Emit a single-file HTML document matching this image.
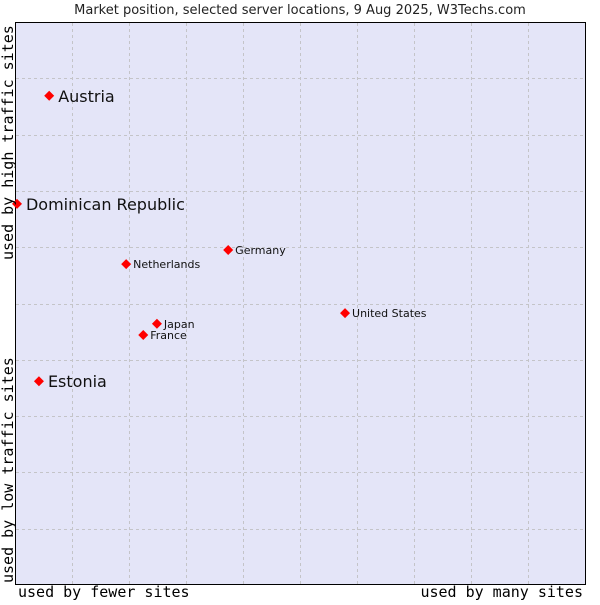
<!DOCTYPE html>
<html><head><meta charset="utf-8"><style>
body{margin:0;background:#fff;width:600px;height:600px;overflow:hidden}
svg text{font-family:"DejaVu Sans","Liberation Sans",sans-serif}
.mono{font-family:"DejaVu Sans Mono","Liberation Mono",monospace}
</style></head><body>
<svg id="c" width="600" height="600">
<text x="300" y="14" text-anchor="middle" font-size="13" fill="#222">Market position, selected server locations, 9 Aug 2025, W3Techs.com</text>
<rect x="15.5" y="22.5" width="570" height="562" fill="#e4e5f8" stroke="#000"/>
<g id="grid"></g>
<g id="pts"></g>
<text class="mono" x="18" y="597" font-size="15" fill="#000">used by fewer sites</text>
<text class="mono" x="583" y="597" font-size="15" text-anchor="end" fill="#000">used by many sites</text>
<text class="mono" transform="translate(13,583) rotate(-90)" font-size="15" fill="#000">used by low traffic sites</text>
<text class="mono" transform="translate(13,260) rotate(-90)" font-size="15" fill="#000">used by high traffic sites</text>
</svg>
<script>
const names=["Austria","Dominican Republic","Netherlands","Germany","United States","Japan","France","Estonia"];
const xVals=[6.0,0.35,19.5,37.4,57.9,24.9,22.5,4.2];
const yVals=[86.9,67.7,57.0,59.5,48.3,46.4,44.4,36.2];
const big=[true,true,false,false,false,false,false,true];
const sx=v=>15+v*5.7, sy=v=>585-v*5.63;
const ns="http://www.w3.org/2000/svg";
const g=document.getElementById('grid'), p=document.getElementById('pts');
for(let i=1;i<10;i++){
 let l=document.createElementNS(ns,'line');
 
 
 let x=Math.round(sx(i*10))+0.5;
 l.setAttribute('x1',x);l.setAttribute('x2',x);l.setAttribute('y1',23);l.setAttribute('y2',584);
 l.setAttribute('stroke','#c4c4c8');l.setAttribute('stroke-dasharray','3,3');g.appendChild(l);
 let h=document.createElementNS(ns,'line');
 
 
 let y=Math.round(sy(i*10))+0.5;
 h.setAttribute('y1',y);h.setAttribute('y2',y);h.setAttribute('x1',16);h.setAttribute('x2',585);
 h.setAttribute('stroke','#c4c4c8');h.setAttribute('stroke-dasharray','3,3');g.appendChild(h);
}
names.forEach((n,i)=>{
 const x=sx(xVals[i]),y=sy(yVals[i]);
 let d=document.createElementNS(ns,'polygon');
 
 
 d.setAttribute('points',`${x},${y-5} ${x+5},${y} ${x},${y+5} ${x-5},${y}`);
 d.setAttribute('fill','#f00');p.appendChild(d);
 let t=document.createElementNS(ns,'text');
 
 
 t.setAttribute('x',x+(big[i]?9:7));t.setAttribute('y',y+(big[i]?6:4));
 t.setAttribute('font-size',big[i]?16:11);t.setAttribute('fill','#111');
 t.textContent=n;p.appendChild(t);
});
</script>
</body></html>
